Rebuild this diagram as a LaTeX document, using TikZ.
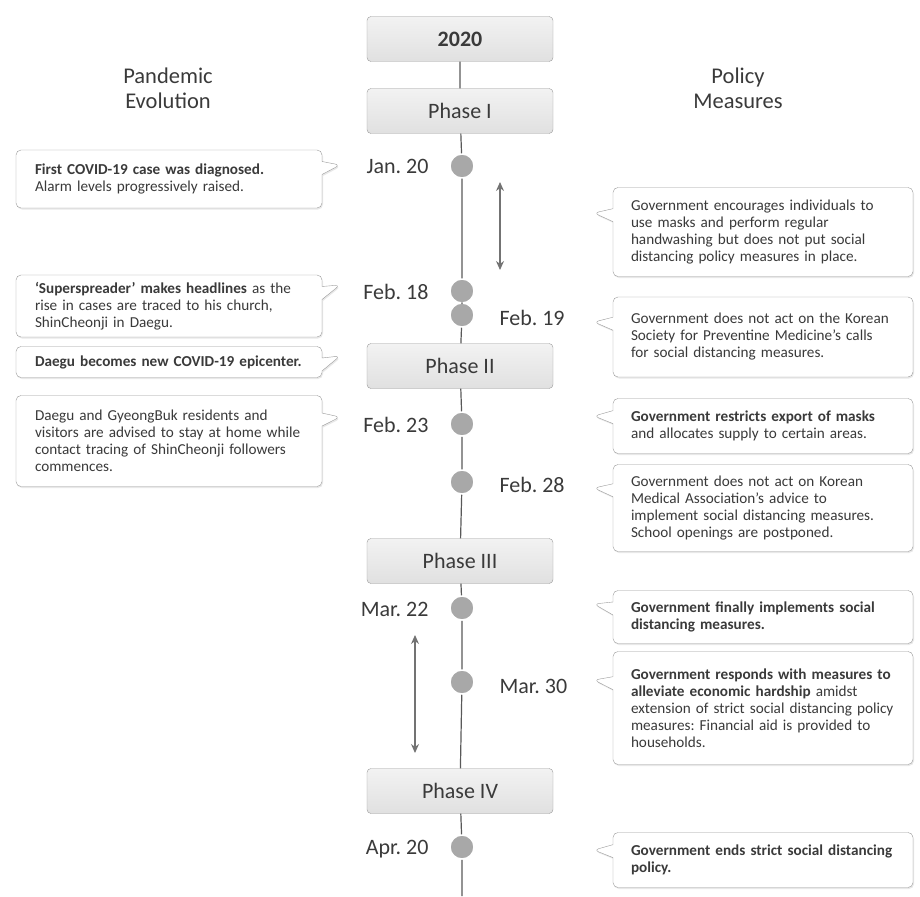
\documentclass[tikz,border=0pt]{standalone}
\usepackage{fontspec}
\setmainfont{Carlito}
\usetikzlibrary{shapes.callouts,shadows,arrows.meta}
\frenchspacing

\definecolor{inkgray}{HTML}{3A3A3A}
\definecolor{edgegray}{HTML}{9A9A9A}
\definecolor{dotgray}{HTML}{A8A8A8}

\tikzset{
  phasebox/.style={draw=edgegray, rounded corners=4pt, top color=white!95!black,
    bottom color=white!88!black, minimum width=186pt, minimum height=45pt,
    text=inkgray, font=\fontsize{22}{24}\selectfont},
  notebox/.style={rectangle callout, draw=edgegray, fill=white, rounded corners=5pt,
    callout pointer width=13pt, align=left, text=inkgray, inner ysep=4pt,
    font=\fontsize{15.2}{17}\selectfont,
    drop shadow={opacity=0.18, shadow xshift=1pt, shadow yshift=-1.5pt}},
  pandemicbox/.style={notebox, text width=268pt, inner xsep=19pt},
  policybox/.style={notebox, text width=264pt, inner xsep=18pt},
  datedot/.style={circle, fill=dotgray, draw=white, line width=1.5pt, minimum size=24pt, inner sep=0pt},
  datelabel/.style={text=inkgray, font=\fontsize{22}{24}\selectfont},
  timeline/.style={draw=black!65, line width=1.2pt},
  spanarrow/.style={draw=black!55, line width=1.2pt, {Stealth[length=9pt,width=8pt]}-{Stealth[length=9pt,width=8pt]}}
}

\begin{document}
\begin{tikzpicture}[x=1pt,y=-1pt]
\useasboundingbox (0,0) rectangle (920,896);

% column heads
\node[datelabel, align=center, font=\fontsize{22.5}{25}\selectfont] (headL) at (168,88) {Pandemic\\Evolution};
\node[datelabel, align=center, font=\fontsize{22.5}{25}\selectfont] (headR) at (738,88) {Policy\\Measures};

% phases
\node[phasebox, font=\bfseries\fontsize{22}{24}\selectfont] (year) at (460,39) {2020};
\node[phasebox] (ph1) at (460,111) {Phase I};
\node[phasebox] (ph2) at (460,366) {Phase II};
\node[phasebox] (ph3) at (460,561) {Phase III};
\node[phasebox] (ph4) at (460,791) {Phase IV};

% dates
\node[datedot] (jan20) at (462,166) {};
\node[datedot] (feb18) at (462,291) {};
\node[datedot] (feb19) at (462,315) {};
\node[datedot] (feb23) at (462,424) {};
\node[datedot] (feb28) at (462,482) {};
\node[datedot] (mar22) at (462,608) {};
\node[datedot] (mar30) at (462,682) {};
\node[datedot] (apr20) at (462,847) {};
\coordinate (tail) at (462,896);

\node[datelabel, anchor=east] at (432,166) {Jan. 20};
\node[datelabel, anchor=east] at (432,292) {Feb. 18};
\node[datelabel, anchor=west] at (496,318) {Feb. 19};
\node[datelabel, anchor=east] at (432,425) {Feb. 23};
\node[datelabel, anchor=west] at (496,485) {Feb. 28};
\node[datelabel, anchor=east] at (432,609) {Mar. 22};
\node[datelabel, anchor=west] at (496,686) {Mar. 30};
\node[datelabel, anchor=east] at (432,849) {Apr. 20};

\draw[timeline] (year) -- (ph1) -- (jan20) -- (feb18) -- (feb19) -- (ph2) -- (feb23)
  -- (feb28) -- (ph3) -- (mar22) -- (mar30) -- (ph4) -- (apr20) -- (tail);

% periods
\coordinate (spanAtop) at (500,182);
\coordinate (spanAbot) at (500,270);
\coordinate (spanBtop) at (415,635);
\coordinate (spanBbot) at (415,753);
\draw[spanarrow] (spanAtop) -- (spanAbot);
\draw[spanarrow] (spanBtop) -- (spanBbot);

% pandemic evolution
\node[pandemicbox, minimum height=58pt, callout absolute pointer={(340,165)}] (evo1) at (169,179)
  {\textbf{First COVID-19 case was diagnosed.}\\Alarm levels progressively raised.};
\node[pandemicbox, minimum height=62pt, callout absolute pointer={(340,285)}] (evo2) at (169,306)
  {\textbf{‘Superspreader’ makes headlines} as the\\rise in cases are traced to his church,\\ShinCheonji in Daegu.};
\node[pandemicbox, minimum height=31pt, callout absolute pointer={(340,356)}] (evo3) at (169,362)
  {\textbf{Daegu becomes new COVID-19 epicenter.}};
\node[pandemicbox, minimum height=91pt, callout absolute pointer={(340,417)}] (evo4) at (169,441)
  {Daegu and GyeongBuk residents and\\visitors are advised to stay at home while\\contact tracing of ShinCheonji followers\\commences.};

% policy measures
\node[policybox, minimum height=89pt, callout absolute pointer={(594,213)}] (pol1) at (763,232)
  {Government encourages individuals to\\use masks and perform regular\\handwashing but does not put social\\distancing policy measures in place.};
\node[policybox, minimum height=80pt, callout absolute pointer={(594,322)}] (pol2) at (763,337)
  {Government does not act on the Korean\\Society for Preventine Medicine’s calls\\for social distancing measures.};
\node[policybox, minimum height=55pt, callout absolute pointer={(594,416)}] (pol3) at (763,426)
  {\textbf{Government restricts export of masks}\\and allocates supply to certain areas.};
\node[policybox, minimum height=87pt, callout absolute pointer={(594,488)}] (pol4) at (763,508)
  {Government does not act on Korean\\Medical Association’s advice to\\implement social distancing measures.\\School openings are postponed.};
\node[policybox, minimum height=53pt, callout absolute pointer={(594,604)}] (pol5) at (763,617)
  {\textbf{Government finally implements social}\\\textbf{distancing measures.}};
\node[policybox, minimum height=113pt, callout absolute pointer={(594,680)}] (pol6) at (763,708)
  {\textbf{Government responds with measures to}\\\textbf{alleviate economic hardship} amidst\\extension of strict social distancing policy\\measures: Financial aid is provided to\\households.};
\node[policybox, minimum height=55pt, callout absolute pointer={(594,850)}] (pol7) at (763,860)
  {\textbf{Government ends strict social distancing}\\\textbf{policy.}};
\end{tikzpicture}
\end{document}
